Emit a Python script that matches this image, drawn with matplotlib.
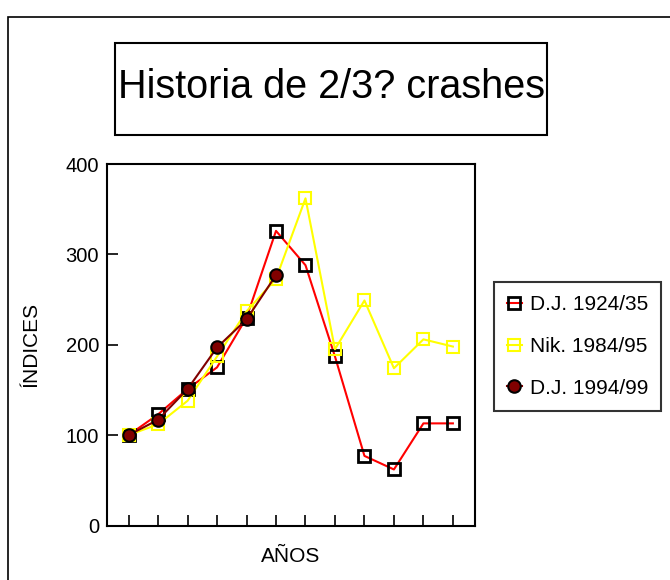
import matplotlib
matplotlib.use("Agg")
import matplotlib.pyplot as plt
from matplotlib.patches import Rectangle

plt.rcParams['font.family'] = ['Liberation Sans', 'DejaVu Sans']

# datos (indice base 100)
periodos = list(range(1, 13))
dj_1924 = [100, 123, 151, 175, 230, 326, 288, 187, 77, 62, 113, 113]
nik_1984 = [100, 112, 138, 187, 237, 273, 362, 195, 249, 174, 206, 198]
dj_1994 = [100, 117, 151, 197, 228, 277]

etiquetas = ['D.J. 1924/35', 'Nik. 1984/95', 'D.J. 1994/99']
y_ticks = [0, 100, 200, 300, 400]

W, H = 670, 580
fig = plt.figure(figsize=(W / 100, H / 100), dpi=100)


def px(x0, y0, x1, y1):
    """caja en pixeles (arriba-izquierda) -> coordenadas de figura"""
    return [x0 / W, 1 - y1 / H, (x1 - x0) / W, (y1 - y0) / H]


ax = fig.add_axes(px(106.5, 164, 475, 525.5))

ax.plot(periodos, dj_1924, color='red', lw=1.5, marker='s', ms=9,
        mfc='none', mec='black', mew=2, label=etiquetas[0], zorder=3)
ax.plot(periodos[:len(nik_1984)], nik_1984, color='yellow', lw=1.5, marker='s',
        ms=9, mfc='none', mec='yellow', mew=1.5, label=etiquetas[1], zorder=4)
ax.plot(periodos[:len(dj_1994)], dj_1994, color='#800000', lw=1.5, marker='o',
        ms=9, mfc='#800000', mec='black', mew=1.5, label=etiquetas[2], zorder=5)

ax.set_xlim(0.25, 12.75)
ax.set_ylim(0, 400)
ax.set_xticks(periodos)
ax.set_xticklabels([])
ax.set_yticks(y_ticks)
ax.tick_params(direction='in', length=8, width=1.2, labelsize=14.5)
ax.tick_params(axis='y', pad=5.4)
for s in ax.spines.values():
    s.set_linewidth(1.5)

ax.set_ylabel('ÍNDICES', fontsize=15)
ax.yaxis.set_label_coords(-0.18, 0.5)
ax.set_xlabel('AÑOS', fontsize=15)
ax.xaxis.set_label_coords(0.5, -0.06)

# marco exterior (solo se ven los bordes izquierdo y superior)
fig.patches.append(Rectangle((8 / W, -0.1), 1.2, 1 - 17 / H + 0.1,
                             transform=fig.transFigure, fill=False,
                             edgecolor='black', lw=1.2))

# caja del titulo
caja = px(115, 43, 547, 135)
fig.patches.append(Rectangle((caja[0], caja[1]), caja[2], caja[3],
                             transform=fig.transFigure, fill=False,
                             edgecolor='black', lw=1.5))
fig.text(331 / W, 1 - 87 / H, 'Historia de 2/3? crashes', fontsize=28.5,
         ha='center', va='center')

leg = fig.legend(loc='upper left', bbox_to_anchor=(494 / W, 1 - 282 / H),
                 fontsize=15, frameon=True, fancybox=False, edgecolor='black',
                 handlelength=0.72, handletextpad=0.38, labelspacing=1.1,
                 borderpad=0.62, borderaxespad=0)
leg.get_frame().set_linewidth(1.5)

fig.savefig('out.png', dpi=100)
